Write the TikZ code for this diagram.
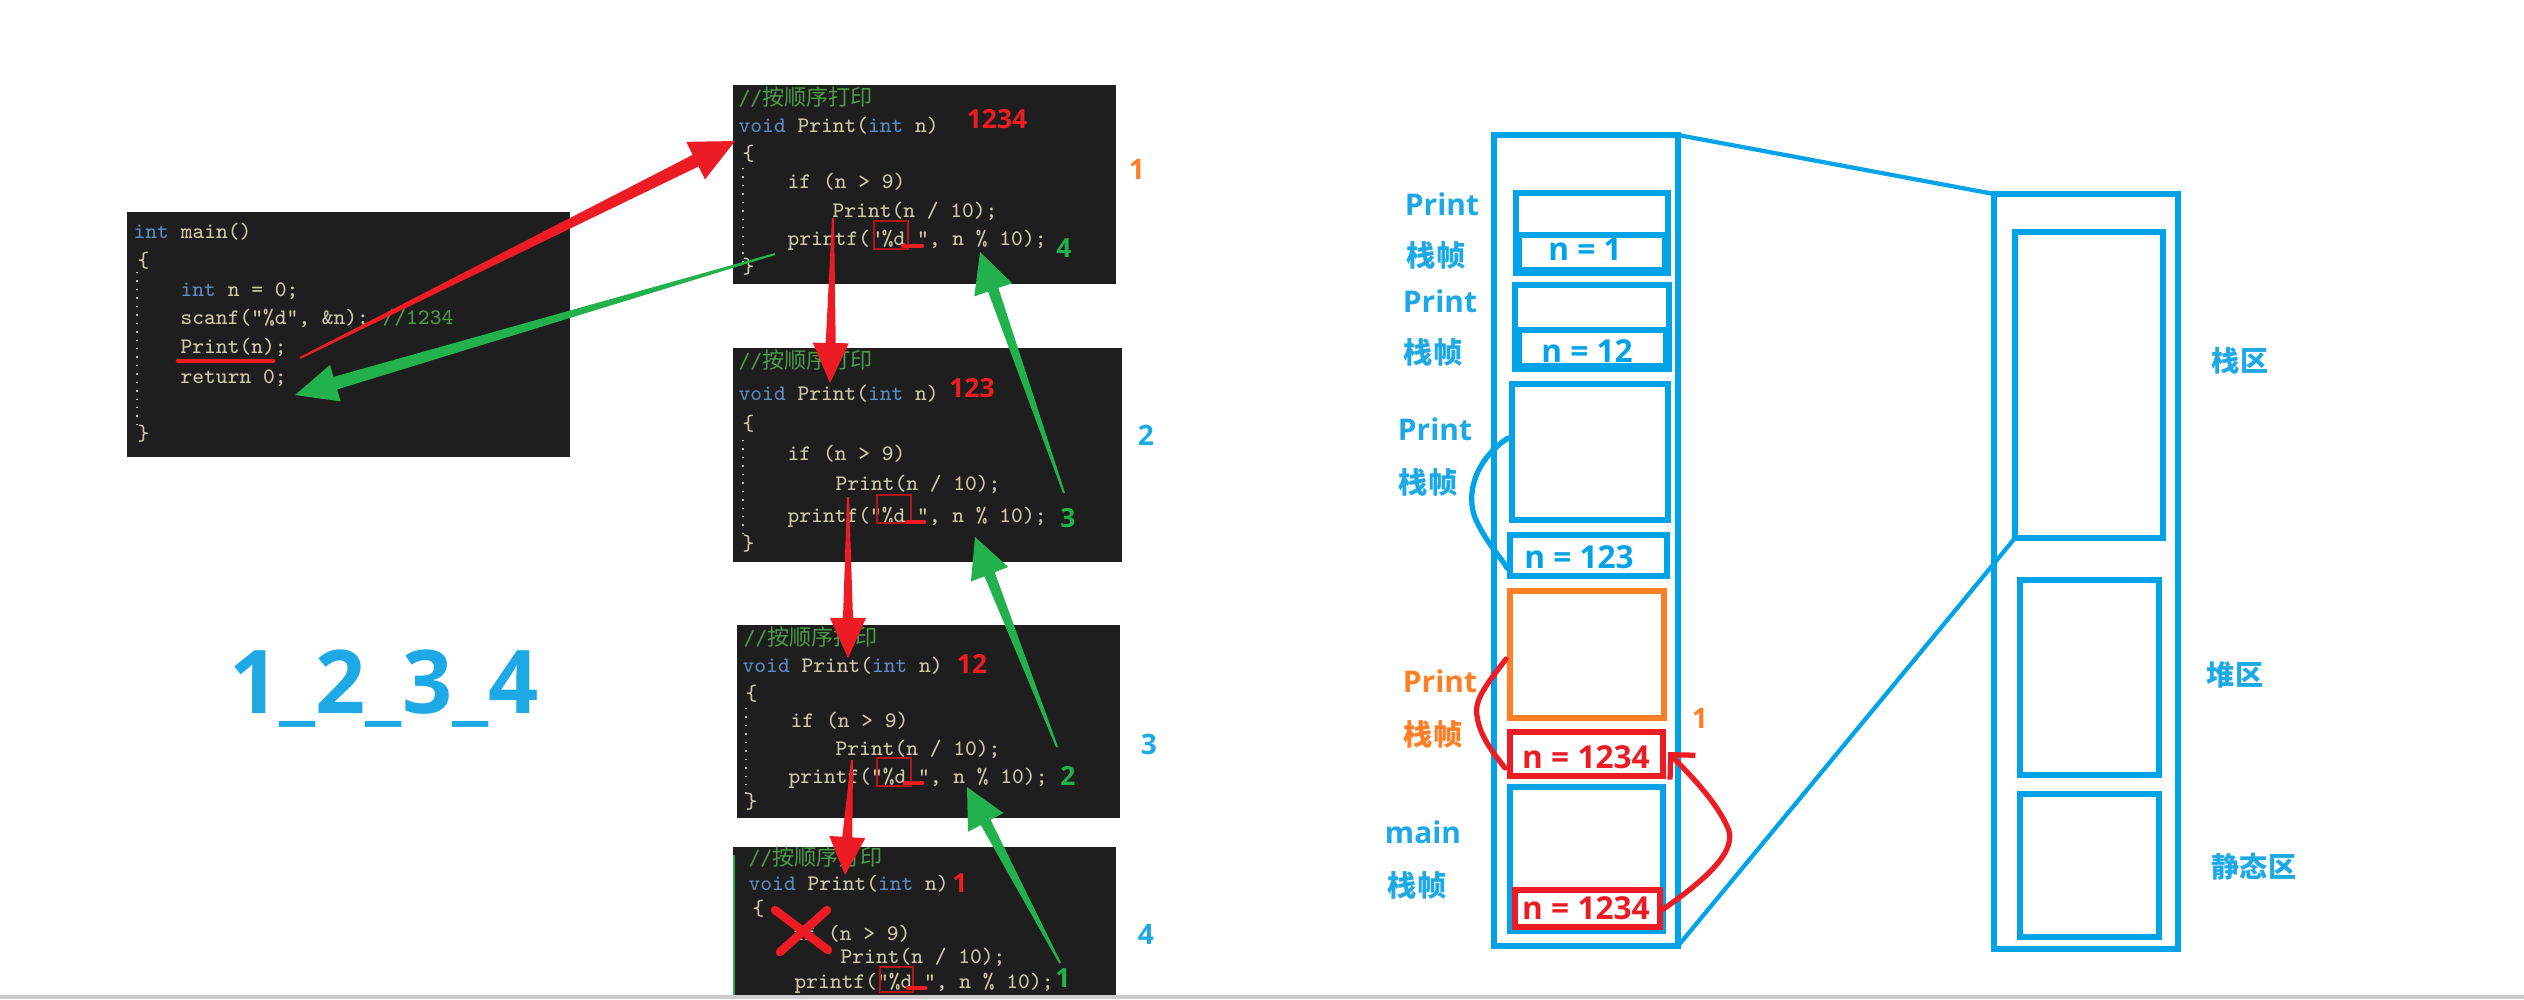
\documentclass[tikz,border=0pt]{standalone}
\usepackage{fontspec}
\setmainfont{Open Sans}
\newfontfamily\cjk{Noto Sans CJK SC}
\usetikzlibrary{calc,arrows.meta}

\definecolor{memblue}{HTML}{00A2E8}
\definecolor{txtblue}{HTML}{1DA8E6}
\definecolor{frameorange}{HTML}{FF7F27}
\definecolor{callred}{HTML}{ED1C24}
\definecolor{retgreen}{HTML}{22B14C}
\definecolor{codebg}{HTML}{1E1E1E}
\definecolor{codetxt}{HTML}{CFC8A8}
\definecolor{kwblue}{HTML}{5B8AC0}
\definecolor{cmtgreen}{HTML}{4A9A48}
\definecolor{fmtred}{HTML}{B0141C}

\newcommand{\kw}[1]{\textcolor{kwblue}{#1}}
\newcommand{\cmt}[1]{\textcolor{cmtgreen}{#1}}

% tapered arrow: colour, tail, tip, tail half width, neck half width, head length, head half width
\newcommand{\taperarrow}[7]{%
  \coordinate (neck) at ($(#3)!#6!(#2)$);
  \fill[#1] ($(#2)!#4!90:(#3)$) -- ($(neck)!#5!-90:(#2)$)
    -- ($(neck)!#7!-90:(#2)$) -- (#3) -- ($(neck)!#7!90:(#2)$)
    -- ($(neck)!#5!90:(#2)$) -- ($(#2)!#4!-90:(#3)$) -- cycle;}

\tikzset{
  codeline/.style={anchor=base west, inner sep=0pt, text=codetxt, font=\fontsize{6.3}{7}\ttfamily},
  codeguide/.style={draw=gray!55, dotted, line width=0.4pt},
  fmtbox/.style={draw=fmtred, line width=0.45pt},
  fmtmark/.style={draw=callred, line width=1.3pt, line cap=round},
  redlab/.style={anchor=base, inner sep=0pt, text=callred, font=\bfseries\fontsize{7.5}{8}\selectfont},
  greenlab/.style={anchor=base, inner sep=0pt, text=retgreen, font=\bfseries\fontsize{7.5}{8}\selectfont},
  steplab/.style={inner sep=0pt, text=txtblue, font=\bfseries\fontsize{8}{9}\selectfont},
  framelab/.style={anchor=base, inner sep=0pt, text=txtblue, font=\bfseries\fontsize{8.5}{10}\selectfont},
  framecjk/.style={anchor=base, inner sep=0pt, text=txtblue, font=\cjk\bfseries\fontsize{8.3}{10}\selectfont},
  nval/.style={anchor=base, inner sep=0pt, font=\bfseries\fontsize{9}{10}\selectfont},
  zonelab/.style={inner sep=0pt, text=txtblue, font=\cjk\bfseries\fontsize{8}{9}\selectfont},
  memline/.style={draw=memblue, line width=1.5pt},
  frameline/.style={draw=memblue, line width=1.6pt},
}

\begin{document}
\begin{tikzpicture}[x=0.01cm,y=-0.01cm]
\useasboundingbox (0,0) rectangle (2524,999);

% Main function
\fill[codebg] (127,212) rectangle (570,457);
\draw[codeguide] (137,272) -- (137,425);
\node[codeline] (m-l1) at (133,238) {\kw{int} main()};
\node[codeline] (m-l2) at (137,267) {\{};
\node[codeline] (m-l3) at (180,296) {\kw{int} n = 0;};
\node[codeline] (m-l4) at (180,324) {scanf("\%d", \&n);};
\node[codeline] (m-l5) at (382,324) {\cmt{//1234}};
\node[codeline] (m-l6) at (180,353) {Print(n);};
\node[codeline] (m-l7) at (180,383) {return 0;};
\node[codeline] (m-l8) at (137,440) {\}};
\draw[fmtmark] (178,361) -- (273,361);

% Print, first call
\fill[codebg] (733,85) rectangle (1116,284);
\draw[codeguide] (743,168) -- (743,262);
\node[codeline] (b1-l1) at (738,105) {\cmt{//{\cjk 按顺序打印}}};
\node[codeline] (b1-l2) at (738,132) {\kw{void} Print(\kw{int} n)};
\node[codeline] (b1-l3) at (742,160) {\{};
\node[codeline] (b1-l4) at (787,188) {if (n > 9)};
\node[codeline] (b1-l5) at (832,217) {Print(n / 10);};
\node[codeline] (b1-l6) at (787,245) {printf("\%d ", n \% 10);};
\node[codeline] (b1-l7) at (742,273) {\}};
\draw[fmtbox] (874,221) rectangle (908,249);
\draw[fmtmark] (903,246) -- (922,246);
\node[redlab] (b1-n) at (997,128) {1234};
\node[greenlab] (b1-k) at (1064,257) {4};

% Print, second call
\fill[codebg] (733,348) rectangle (1122,562);
\draw[codeguide] (743,440) -- (743,540);
\node[codeline] (b2-l1) at (738,368) {\cmt{//{\cjk 按顺序打印}}};
\node[codeline] (b2-l2) at (738,400) {\kw{void} Print(\kw{int} n)};
\node[codeline] (b2-l3) at (742,430) {\{};
\node[codeline] (b2-l4) at (787,460) {if (n > 9)};
\node[codeline] (b2-l5) at (835,490) {Print(n / 10);};
\node[codeline] (b2-l6) at (787,522) {printf("\%d ", n \% 10);};
\node[codeline] (b2-l7) at (742,550) {\}};
\draw[fmtbox] (877,495) rectangle (911,523);
\draw[fmtmark] (907,522) -- (924,522);
\node[redlab] (b2-n) at (972,397) {123};
\node[greenlab] (b2-k) at (1068,527) {3};

% Print, third call
\fill[codebg] (737,625) rectangle (1120,818);
\draw[codeguide] (746,708) -- (746,798);
\node[codeline] (b3-l1) at (743,645) {\cmt{//{\cjk 按顺序打印}}};
\node[codeline] (b3-l2) at (742,672) {\kw{void} Print(\kw{int} n)};
\node[codeline] (b3-l3) at (745,700) {\{};
\node[codeline] (b3-l4) at (790,727) {if (n > 9)};
\node[codeline] (b3-l5) at (835,755) {Print(n / 10);};
\node[codeline] (b3-l6) at (788,783) {printf("\%d ", n \% 10);};
\node[codeline] (b3-l7) at (745,808) {\}};
\draw[fmtbox] (877,758) rectangle (911,786);
\draw[fmtmark] (905,783) -- (922,783);
\node[redlab] (b3-n) at (972,673) {12};
\node[greenlab] (b3-k) at (1068,785) {2};

% Print, fourth call (cut by the page edge)
\begin{scope}
\clip (0,0) rectangle (2524,995);
\fill[codebg] (733,847) rectangle (1116,999);
\draw[retgreen, line width=0.6pt] (734,855) -- (734,999);
\node[codeline] (b4-l1) at (748,865) {\cmt{//{\cjk 按顺序打印}}};
\node[codeline] (b4-l2) at (748,890) {\kw{void} Print(\kw{int} n)};
\node[codeline] (b4-l3) at (752,915) {\{};
\node[codeline] (b4-l4) at (792,940) {if (n > 9)};
\node[codeline] (b4-l5) at (840,963) {Print(n / 10);};
\node[codeline] (b4-l6) at (794,988) {printf("\%d ", n \% 10);};
\draw[fmtbox] (880,967) rectangle (913,992);
\draw[fmtmark] (908,988) -- (925,988);
\end{scope}
\draw[callred, line width=2.4pt, line cap=round] (775,910) -- (828,950);
\draw[callred, line width=2.4pt, line cap=round] (827,910) -- (780,952);
\node[redlab] (b4-n) at (960,892) {1};
\node[greenlab] (b4-k) at (1063,987) {1};

% Call arrows
\coordinate (main-call) at (300,358);
\coordinate (b1-entry) at (735,141);
\coordinate (b1-call) at (833,218);
\coordinate (b2-entry) at (830,383);
\coordinate (b2-call) at (848,497);
\coordinate (b3-entry) at (848,658);
\coordinate (b3-call) at (852,760);
\coordinate (b4-entry) at (845,875);
\taperarrow{callred}{main-call}{b1-entry}{0.01cm}{0.065cm}{0.44cm}{0.21cm}
\taperarrow{callred}{b1-call}{b2-entry}{0.01cm}{0.05cm}{0.4cm}{0.18cm}
\taperarrow{callred}{b2-call}{b3-entry}{0.01cm}{0.05cm}{0.4cm}{0.18cm}
\taperarrow{callred}{b3-call}{b4-entry}{0.01cm}{0.05cm}{0.38cm}{0.18cm}

% Return arrows
\coordinate (b4-ret) at (1060,963);
\coordinate (b3-back) at (967,787);
\coordinate (b3-ret) at (1057,747);
\coordinate (b2-back) at (975,537);
\coordinate (b2-ret) at (1064,493);
\coordinate (b1-back) at (980,252);
\coordinate (b1-ret) at (775,254);
\coordinate (main-back) at (295,395);
\taperarrow{retgreen}{b4-ret}{b3-back}{0.01cm}{0.055cm}{0.4cm}{0.2cm}
\taperarrow{retgreen}{b3-ret}{b2-back}{0.01cm}{0.055cm}{0.4cm}{0.2cm}
\taperarrow{retgreen}{b2-ret}{b1-back}{0.01cm}{0.055cm}{0.4cm}{0.2cm}
\taperarrow{retgreen}{b1-ret}{main-back}{0.01cm}{0.065cm}{0.42cm}{0.19cm}

% Step numbers
\node[steplab, text=frameorange] (s1) at (1137,169) {1};
\node[steplab] (s2) at (1146,435) {2};
\node[steplab] (s3) at (1149,744) {3};
\node[steplab] (s4) at (1146,934) {4};

% Printed digits
\node[anchor=base, inner sep=0pt, text=txtblue, font=\bfseries\fontsize{25}{28}\selectfont] (digits) at (384,713) {1\_2\_3\_4};

% Stack area
\draw[memline] (1494,135) coordinate (stack-nw) rectangle (1678,946) coordinate (stack-se);

% Print frame, n = 1
\draw[frameline] (1516,193) rectangle (1668,273);
\draw[frameline] (1519,235) rectangle (1665,270);
\node[nval, text=memblue] (f1-n) at (1585,260) {n = 1};
\node[framelab] (f1-name) at (1442,215) {Print};
\node[framecjk] (f1-kind) at (1436,266) {栈帧};

% Print frame, n = 12
\draw[frameline] (1515,285) rectangle (1669,369);
\draw[frameline] (1519,330) rectangle (1666,366);
\node[nval, text=memblue] (f2-n) at (1587,362) {n = 12};
\node[framelab] (f2-name) at (1440,312) {Print};
\node[framecjk] (f2-kind) at (1433,363) {栈帧};

% Print frame, n = 123
\draw[frameline] (1512,384) rectangle (1668,520);
\draw[frameline] (1510,535) rectangle (1667,576);
\node[nval, text=memblue] (f3-n) at (1579,568) {n = 123};
\node[framelab] (f3-name) at (1435,440) {Print};
\node[framecjk] (f3-kind) at (1428,493) {栈帧};
\draw[memline, line cap=round] (1508,438) .. controls (1472,462) and (1466,498) .. (1476,520)
  .. controls (1486,542) and (1500,556) .. (1507,568);

% Print frame, n = 1234
\draw[frameline, draw=frameorange] (1510,591) rectangle (1664,718);
\draw[frameline, draw=callred] (1510,732) rectangle (1663,776);
\node[nval, text=callred] (f4-n) at (1586,768) {n = 1234};
\node[framelab, text=frameorange] (f4-name) at (1440,692) {Print};
\node[framecjk, text=frameorange] (f4-kind) at (1433,745) {栈帧};
\draw[callred, line width=1.5pt, line cap=round] (1506,659) .. controls (1486,685) and (1474,700) .. (1477,716)
  .. controls (1480,738) and (1496,756) .. (1505,768);

% main frame
\draw[frameline] (1510,787) rectangle (1663,931);
\draw[frameline, draw=callred] (1515,890) rectangle (1660,927);
\node[nval, text=callred] (f5-n) at (1586,919) {n = 1234};
\node[framelab] (f5-name) at (1423,843) {main};
\node[framecjk] (f5-kind) at (1417,896) {栈帧};

% Argument copied into the new frame
\coordinate (mainn-out) at (1662,910);
\coordinate (printn-in) at (1668,752);
\draw[callred, line width=1.5pt, line cap=round, -{Straight Barb[length=5pt,width=10pt]}]
  (mainn-out) .. controls (1705,880) and (1740,850) .. (1727,826)
  .. controls (1715,800) and (1690,775) .. (printn-in);
\node[steplab, text=frameorange] (ret1) at (1700,718) {1};

% Memory layout
\draw[memline] (1994,194) coordinate (col-nw) rectangle (2178,949);
\draw[memline] (2015,232) coordinate (zone1-nw) rectangle (2163,538) coordinate (zone1-se);
\draw[memline] (2020,580) rectangle (2159,775);
\draw[memline] (2020,794) rectangle (2159,937);
\node[zonelab] (z1) at (2240,361) {栈区};
\node[zonelab] (z2) at (2235,675) {堆区};
\node[zonelab] (z3) at (2254,867) {静态区};

% Zoom lines
\draw[memblue, line width=1.2pt] (stack-nw -| stack-se) -- (col-nw);
\draw[memblue, line width=1.2pt] (stack-se) -- (zone1-nw |- zone1-se);

% Page edge
\draw[gray!40, line width=0.9pt] (0,997) -- (2524,997);

\end{tikzpicture}
\end{document}
